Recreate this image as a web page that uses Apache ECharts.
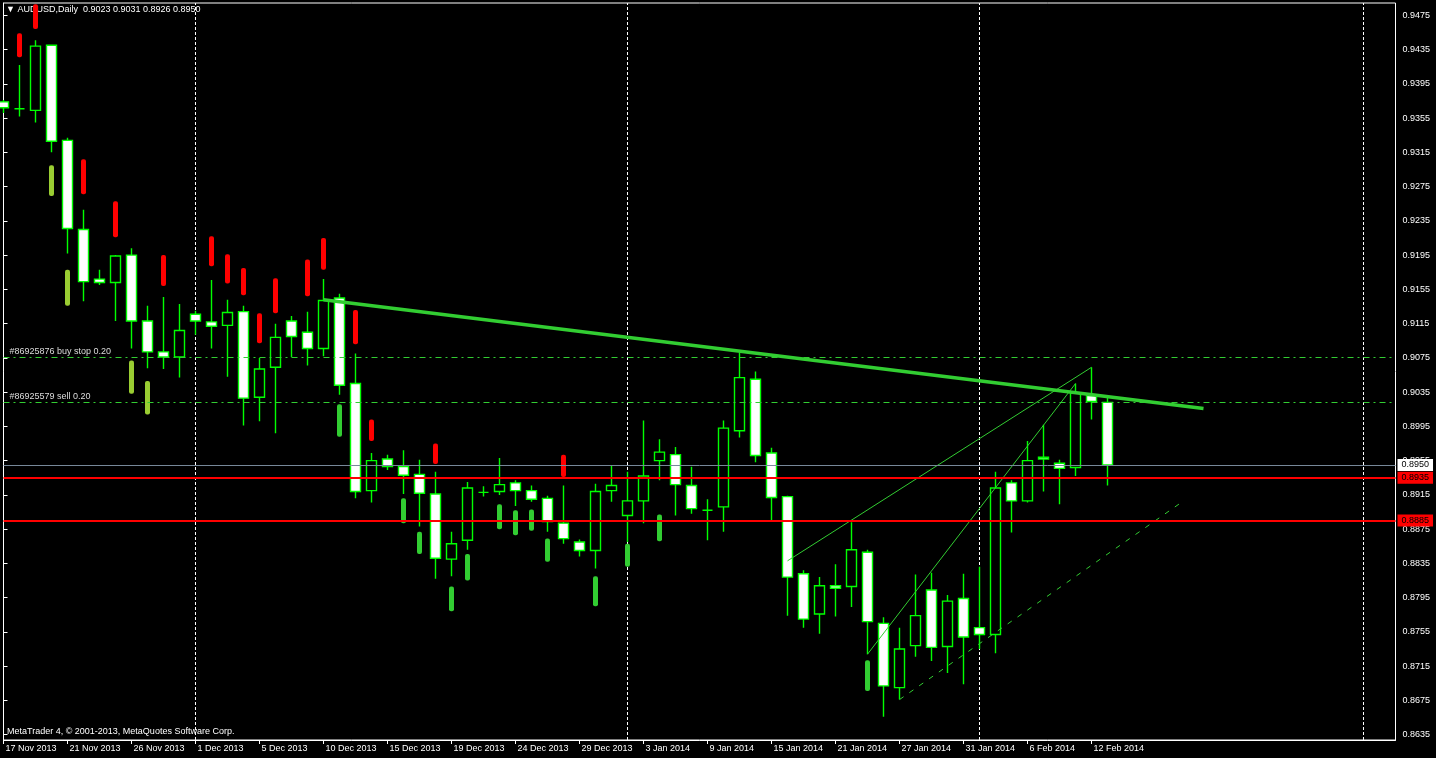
<!DOCTYPE html>
<html>
<head>
<meta charset="utf-8">
<style>
html,body{margin:0;padding:0;background:#000;}
#c{width:1436px;height:758px;}
</style>
<script src="https://cdn.jsdelivr.net/npm/echarts@6/dist/echarts.min.js"></script>
</head>
<body>
<div id="c"></div>
<script>
// ---- bar dates (one per daily bar) ----
const dates = [
 '17 Nov 2013','18 Nov 2013','19 Nov 2013','20 Nov 2013','21 Nov 2013','22 Nov 2013','24 Nov 2013','25 Nov 2013',
 '26 Nov 2013','27 Nov 2013','28 Nov 2013','29 Nov 2013','1 Dec 2013','2 Dec 2013','3 Dec 2013','4 Dec 2013',
 '5 Dec 2013','6 Dec 2013','8 Dec 2013','9 Dec 2013','10 Dec 2013','11 Dec 2013','12 Dec 2013','13 Dec 2013',
 '15 Dec 2013','16 Dec 2013','17 Dec 2013','18 Dec 2013','19 Dec 2013','20 Dec 2013','22 Dec 2013','23 Dec 2013',
 '24 Dec 2013','25 Dec 2013','26 Dec 2013','27 Dec 2013','29 Dec 2013','30 Dec 2013','31 Dec 2013','2 Jan 2014',
 '3 Jan 2014','6 Jan 2014','7 Jan 2014','8 Jan 2014','9 Jan 2014','10 Jan 2014','13 Jan 2014','14 Jan 2014',
 '15 Jan 2014','16 Jan 2014','17 Jan 2014','20 Jan 2014','21 Jan 2014','22 Jan 2014','23 Jan 2014','24 Jan 2014',
 '27 Jan 2014','28 Jan 2014','29 Jan 2014','30 Jan 2014','31 Jan 2014','3 Feb 2014','4 Feb 2014','5 Feb 2014',
 '6 Feb 2014','7 Feb 2014','10 Feb 2014','11 Feb 2014','12 Feb 2014','13 Feb 2014'
];
const labelIdx = [0,4,8,12,16,20,24,28,32,36,40,44,48,52,56,60,64,68];
const totalSlots = 87; // bar slots shown incl. empty future space

// ---- OHLC ----
const opens  = [0.9374,0.9366,0.9364,0.9440,0.9329,0.9225,0.9167,0.9163,0.9195,0.9118,0.9082,0.9076,0.9126,0.9117,0.9113,0.9129,0.9029,0.9064,0.9118,0.9105,
                0.9086,0.9145,0.9045,0.8920,0.8957,0.8948,0.8939,0.8916,0.8840,0.8862,0.8918,0.8919,0.8929,0.8920,0.8911,0.8882,0.8860,0.8850,0.8920,0.8891,
                0.8908,0.8955,0.8962,0.8926,0.8897,0.8901,0.8990,0.9050,0.8964,0.8913,0.8823,0.8776,0.8809,0.8808,0.8848,0.8765,0.8690,0.8739,0.8804,0.8738,
                0.8794,0.8760,0.8752,0.8929,0.8908,0.8959,0.8952,0.8947,0.9031,0.9023];
const highs  = [0.9376,0.9417,0.9446,0.9441,0.9332,0.9248,0.9178,0.9195,0.9203,0.9136,0.9146,0.9138,0.9130,0.9166,0.9143,0.9136,0.9075,0.9115,0.9124,0.9129,
                0.9167,0.9150,0.9080,0.8964,0.8962,0.8967,0.8956,0.8942,0.8872,0.8930,0.8925,0.8958,0.8932,0.8926,0.8914,0.8926,0.8863,0.8928,0.8949,0.8942,
                0.9002,0.8980,0.8971,0.8948,0.8910,0.9002,0.9081,0.9059,0.8970,0.8914,0.8827,0.8819,0.8834,0.8883,0.8851,0.8772,0.8760,0.8822,0.8824,0.8798,
                0.8823,0.8831,0.8942,0.8932,0.8978,0.8997,0.8956,0.9045,0.9064,0.9031];
const lows   = [0.9361,0.9357,0.9350,0.9315,0.9197,0.9141,0.9160,0.9118,0.9086,0.9063,0.9062,0.9052,0.9102,0.9086,0.9053,0.8996,0.9001,0.8987,0.9076,0.9066,
                0.9077,0.9032,0.8911,0.8906,0.8944,0.8916,0.8878,0.8817,0.8820,0.8851,0.8913,0.8915,0.8902,0.8907,0.8872,0.8858,0.8843,0.8829,0.8907,0.8860,
                0.8882,0.8932,0.8891,0.8893,0.8862,0.8872,0.8982,0.8953,0.8884,0.8774,0.8760,0.8753,0.8773,0.8784,0.8729,0.8656,0.8676,0.8726,0.8721,0.8707,
                0.8694,0.8735,0.8730,0.8871,0.8906,0.8919,0.8904,0.8937,0.9003,0.8926];
const closes = [0.9367,0.9366,0.9439,0.9328,0.9226,0.9164,0.9163,0.9194,0.9118,0.9082,0.9076,0.9107,0.9118,0.9112,0.9128,0.9028,0.9062,0.9099,0.9100,0.9086,
                0.9142,0.9043,0.8919,0.8955,0.8948,0.8938,0.8917,0.8841,0.8858,0.8923,0.8918,0.8927,0.8920,0.8910,0.8884,0.8864,0.8850,0.8919,0.8926,0.8908,
                0.8937,0.8965,0.8927,0.8899,0.8897,0.8993,0.9052,0.8961,0.8912,0.8819,0.8770,0.8809,0.8806,0.8851,0.8767,0.8692,0.8735,0.8774,0.8737,0.8791,
                0.8749,0.8752,0.8923,0.8908,0.8955,0.8957,0.8946,0.9034,0.9024,0.8950];

// ---- indicator signal bars: [bar index, top price, bottom price] ----
const redSignals = [[1,0.9454,0.9426],[2,0.9488,0.9459],[5,0.9307,0.9266],[7,0.9258,0.9216],[10,0.9195,0.9159],[13,0.9217,0.9182],
                    [14,0.9196,0.9162],[15,0.9180,0.9148],[16,0.9127,0.9092],[17,0.9168,0.9127],[19,0.9190,0.9147],[20,0.9215,0.9178],
                    [22,0.9131,0.9091],[23,0.9003,0.8978],[27,0.8975,0.8951],[35,0.8962,0.8936]];
const yellowSignals = [[3,0.9300,0.9264],[4,0.9178,0.9136],[8,0.9072,0.9033],[9,0.9048,0.9009]];
const greenSignals = [[21,0.9021,0.8983],[25,0.8911,0.8882],[26,0.8872,0.8846],[28,0.8808,0.8779],[29,0.8846,0.8815],[31,0.8904,0.8875],
                      [32,0.8897,0.8868],[33,0.8898,0.8873],[34,0.8864,0.8837],[37,0.8820,0.8785],[39,0.8858,0.8831],[41,0.8892,0.8861],
                      [54,0.8722,0.8686]];

// ---- price axis ----
const priceTicks = [0.9475,0.9435,0.9395,0.9355,0.9315,0.9275,0.9235,0.9195,0.9155,0.9115,0.9075,0.9035,0.8995,0.8955,0.8915,0.8875,0.8835,0.8795,0.8755,0.8715,0.8675,0.8635];
const priceMin = 0.86288, priceMax = 0.94894;

// ---- levels & drawn objects ----
const bidPrice = 0.8950;
const redLevels = [0.8935, 0.8885];
const orderLevels = [0.9076, 0.9023];
const orderLabels = ['#86925876 buy stop 0.20', '#86925579 sell 0.20'];
const separatorIdx = [12, 39, 61, 85];
const trendLine = [[20, 0.9143], [75, 0.9016]];
const thinLineA = [[49, 0.8838], [68, 0.9064]];
const thinLineB = [[54, 0.8729], [67, 0.9045]];
const channelLine = [[56, 0.8676], [73.6, 0.8906]];

const FONT = "'Liberation Sans', Arial, sans-serif";
const f4 = v => Number(v).toFixed(4);
const n = closes.length - 1;

const candleData = opens.map((o, i) => [i, o, closes[i], lows[i], highs[i]]);

function signalSeries(name, data, color) {
  return {
    type: 'custom', name, z: 2, data,
    encode: {x: 0, y: [1, 2]},
    renderItem(params, api) {
      const a = api.coord([api.value(0), api.value(1)]);
      const b = api.coord([api.value(0), api.value(2)]);
      return {type: 'rect', shape: {x: a[0] - 2.5, y: a[1], width: 5, height: b[1] - a[1], r: 2}, style: {fill: color}};
    }
  };
}
function lineSeries(name, data, style, z) {
  return {type: 'line', name, data, symbol: 'none', z: z, lineStyle: style, silent: true};
}
function priceBox(v, bg) {
  return {show: true, position: 'end', distance: 2, formatter: f4(v), color: '#000', backgroundColor: bg,
          fontSize: 9, padding: [2, 4, 1, 4], fontFamily: FONT};
}
function orderLabel(t) {
  return {show: true, position: 'insideStartTop', formatter: t, color: '#dcdcdc', fontSize: 9, distance: [6, 1], fontFamily: FONT};
}

const chart = echarts.init(document.getElementById('c'), null, {renderer: 'canvas'});
chart.setOption({
  backgroundColor: '#000',
  animation: false,
  textStyle: {fontFamily: FONT},
  title: [
    {text: '\u25BC AUDUSD,Daily  ' + [opens[n], highs[n], lows[n], closes[n]].map(f4).join(' '),
     left: 6, top: 5, padding: 0, z: 1,
     textStyle: {color: '#fff', fontSize: 9, fontWeight: 'normal', fontFamily: FONT}},
    {text: 'MetaTrader 4, \u00A9 2001-2013, MetaQuotes Software Corp.',
     left: 7, top: 727, padding: 0, z: 1,
     textStyle: {color: '#fff', fontSize: 9, fontWeight: 'normal', fontFamily: FONT}}
  ],
  grid: {left: 3.5, right: 40.5, top: 3, bottom: 18, show: true, borderColor: '#fff', borderWidth: 1, backgroundColor: '#000'},
  xAxis: {
    type: 'value', min: 0, max: totalSlots,
    splitLine: {show: false},
    axisLine: {show: true, onZero: false, lineStyle: {color: '#fff', width: 1}},
    axisTick: {show: true, length: 4, customValues: labelIdx, lineStyle: {color: '#fff'}},
    axisLabel: {customValues: labelIdx, formatter: v => dates[Math.round(v)] || '', color: '#fff', fontSize: 9,
                align: 'left', padding: [0, 0, 0, 2], margin: 4, fontFamily: FONT}
  },
  yAxis: {
    type: 'value', position: 'right', min: priceMin, max: priceMax, scale: true,
    splitLine: {show: false},
    axisLine: {show: true, lineStyle: {color: '#fff', width: 1}},
    axisTick: {show: true, length: 4, customValues: priceTicks, lineStyle: {color: '#fff'}},
    axisLabel: {customValues: priceTicks, formatter: v => f4(v), color: '#fff', fontSize: 9, margin: 7, fontFamily: FONT}
  },
  series: [
    {type: 'line', name: 'separators', data: [], z: 1, silent: true,
     markLine: {silent: true, symbol: 'none', z: 1, label: {show: false}, precision: 4,
       lineStyle: {color: '#fff', width: 1, type: [3, 2]},
       data: separatorIdx.map(i => ({xAxis: i}))}},
    signalSeries('red', redSignals, '#FF0000'),
    signalSeries('yellowgreen', yellowSignals, '#9ACD32'),
    signalSeries('limegreen', greenSignals, '#32CD32'),
    {type: 'candlestick', name: 'AUDUSD', data: candleData, z: 3,
     encode: {x: 0, y: [1, 2, 3, 4]},
     barWidth: 10,
     itemStyle: {color: '#000', color0: '#fff', borderColor: '#00FF00', borderColor0: '#00FF00', borderColorDoji: '#00FF00', borderWidth: 1.4},
     markLine: {silent: true, symbol: 'none', z: 5, precision: 4,
       data: [
         {yAxis: orderLevels[0], lineStyle: {color: '#32CD32', width: 1, type: [6, 4, 2, 4]}, label: orderLabel(orderLabels[0])},
         {yAxis: orderLevels[1], lineStyle: {color: '#32CD32', width: 1, type: [6, 4, 2, 4]}, label: orderLabel(orderLabels[1])},
         {yAxis: bidPrice, lineStyle: {color: '#778899', width: 1, type: 'solid'}, label: priceBox(bidPrice, '#fff')},
         {yAxis: redLevels[0], lineStyle: {color: '#FF0000', width: 2, type: 'solid'}, label: priceBox(redLevels[0], '#FF0000')},
         {yAxis: redLevels[1], lineStyle: {color: '#FF0000', width: 2, type: 'solid'}, label: priceBox(redLevels[1], '#FF0000')}
       ]}},
    lineSeries('trend', trendLine, {color: '#32CD32', width: 3.5}, 4),
    lineSeries('thinA', thinLineA, {color: '#32CD32', width: 1}, 4),
    lineSeries('thinB', thinLineB, {color: '#32CD32', width: 1}, 4),
    lineSeries('channel', channelLine, {color: '#32CD32', width: 1, type: [5, 7]}, 4)
  ]
});
</script>
</body>
</html>
